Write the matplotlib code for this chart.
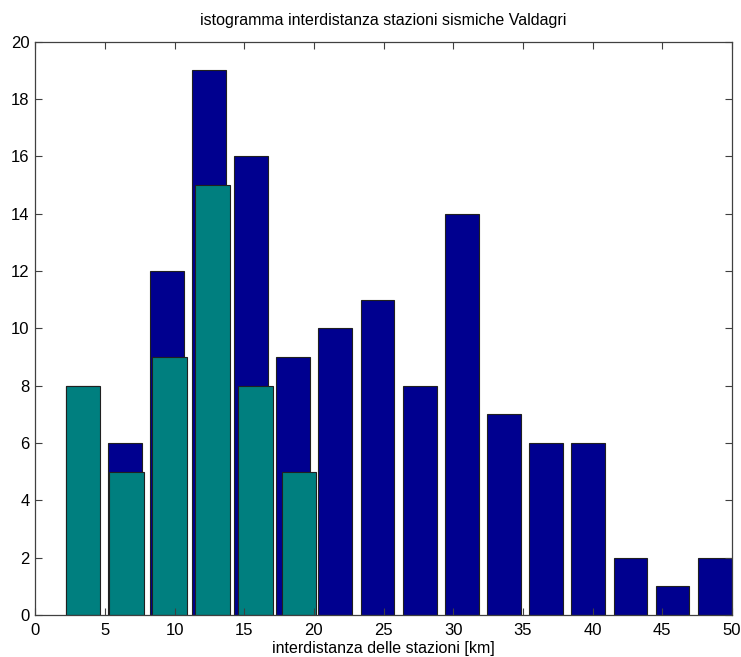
import matplotlib.pyplot as plt

# conteggi per classe di interdistanza (tutte le coppie di stazioni)
centri_tutte = [3.39, 6.42, 9.44, 12.47, 15.49, 18.52, 21.54, 24.57,
                27.59, 30.62, 33.64, 36.67, 39.69, 42.72, 45.74, 48.77]
conteggi_tutte = [8, 6, 12, 19, 16, 9, 10, 11, 8, 14, 7, 6, 6, 2, 1, 2]

# conteggi per il sottoinsieme di stazioni
centri_sub = [3.44, 6.54, 9.63, 12.73, 15.82, 18.92]
conteggi_sub = [8, 5, 9, 15, 8, 5]

x_ticks = [0, 5, 10, 15, 20, 25, 30, 35, 40, 45, 50]
y_ticks = [0, 2, 4, 6, 8, 10, 12, 14, 16, 18, 20]

plt.rcParams['font.family'] = ['Liberation Sans', 'DejaVu Sans']

fig = plt.figure(figsize=(7.41, 6.57), dpi=100)
ax = fig.add_axes([0.0476, 0.0639, 0.94, 0.8726])

larg_tutte = 0.8 * (centri_tutte[1] - centri_tutte[0])
larg_sub = 0.8 * (centri_sub[1] - centri_sub[0])

ax.bar(centri_tutte, conteggi_tutte, width=larg_tutte, color='#00008f',
       edgecolor='#202020', linewidth=0.8)
ax.bar(centri_sub, conteggi_sub, width=larg_sub, color='#007f7f',
       edgecolor='#202020', linewidth=0.8)

ax.set_xlim(0, 50)
ax.set_ylim(0, 20)
ax.set_xticks(x_ticks)
ax.set_yticks(y_ticks)
ax.tick_params(direction='in', length=5, width=0.8, top=True, right=True,
               labelsize=12, color='#404040')
ax.tick_params(axis='y', pad=4)
ax.tick_params(axis='x', pad=6)
for s in ax.spines.values():
    s.set_color('#404040')
    s.set_linewidth(0.9)

ax.set_title('istogramma interdistanza stazioni sismiche Valdagri',
             fontsize=11.5, pad=12)
ax.set_xlabel('interdistanza delle stazioni [km]', fontsize=11.5, labelpad=2)

fig.savefig('out.png', dpi=100)
